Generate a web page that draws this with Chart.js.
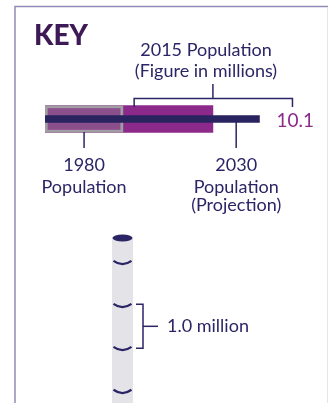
<!DOCTYPE html>
<html>
<head>
<meta charset="utf-8">
<script src="https://cdn.jsdelivr.net/npm/chart.js@4.4.0/dist/chart.umd.min.js"></script>
<style>
html, body { margin: 0; padding: 0; background: #fff; }
#wrap { position: relative; width: 328px; height: 403px; overflow: hidden; }
#wrap canvas { position: absolute; left: 0; top: 0; }
</style>
</head>
<body>
<div id="wrap">
  <canvas id="keyBars" width="328" height="403"></canvas>
  <canvas id="keyColumn" width="328" height="403"></canvas>
</div>
<script>
// key values (millions)
var years = ['1980', '2015', '2030'];
var popValues = [4.7, 10.1, 12.9];
var label2015 = '10.1';

// column illustration
var columnRange = [0.75, 4.6];
var columnTicks = [1, 2, 3, 4];
var bracketRange = [2, 3];
var bracketLabel = '1.0 million';

var NAVY = '#2b2566';
var PURPLE = '#8b2a8b';
var FONT = 'Lato, "Open Sans", sans-serif';

function line(ctx, pts) {
    ctx.beginPath();
    ctx.moveTo(pts[0][0], pts[0][1]);
    for (var i = 1; i < pts.length; i++) ctx.lineTo(pts[i][0], pts[i][1]);
    ctx.stroke();
}

function text(ctx, s, x, y, align) {
    ctx.textAlign = align || 'center';
    ctx.fillText(s, x, y);
}

var keyDecor = {
    id: 'keyDecor',
    afterDraw: function (chart) {
        var ctx = chart.ctx;
        var x = chart.scales.x;
        var a = chart.chartArea;
        ctx.save();

        // frame
        ctx.strokeStyle = '#8e8bb8';
        ctx.lineWidth = 1.5;
        line(ctx, [[15, 403], [15, 6.5], [328, 6.5]]);
        ctx.strokeStyle = '#e6e6ea';
        ctx.lineWidth = 1;
        line(ctx, [[327.5, 7], [327.5, 403]]);

        // title
        ctx.fillStyle = '#3d1a55';
        ctx.font = '900 28px ' + FONT;
        ctx.textBaseline = 'alphabetic';
        text(ctx, 'KEY', 34, 45, 'left');

        var x0 = x.getPixelForValue(0);
        var x1980 = x.getPixelForValue(popValues[0]);
        var x2015 = x.getPixelForValue(popValues[1]);
        var x2030 = x.getPixelForValue(popValues[2]);
        var labelX = x2030 + 17;

        // 2015 bracket
        ctx.strokeStyle = NAVY;
        ctx.lineWidth = 1.5;
        var by = 98.5;
        line(ctx, [[x2015, 84], [x2015, by]]);
        line(ctx, [[x1980 + 11, a.top + 7], [x1980 + 11, by], [labelX + 16, by], [labelX + 16, a.top + 7]]);

        // pointers
        var p1980 = (x0 + x1980) / 2;
        var p2030 = (x2015 + x2030) / 2;
        line(ctx, [[p1980, a.top + 32], [p1980, 148]]);
        line(ctx, [[p2030, a.top + 22], [p2030, 148]]);

        ctx.fillStyle = NAVY;
        ctx.font = '18px ' + FONT;
        text(ctx, years[1] + ' Population', 206, 56);
        text(ctx, '(Figure in millions)', 206, 77);
        text(ctx, years[0], p1980, 171);
        text(ctx, 'Population', p1980, 193);
        text(ctx, years[2], p2030, 171);
        text(ctx, 'Population', p2030, 193);
        text(ctx, '(Projection)', p2030, 211);

        ctx.fillStyle = PURPLE;
        ctx.font = '19px ' + FONT;
        text(ctx, label2015, labelX, 127, 'left');
        ctx.restore();
    }
};

var chart_keyBars = new Chart(document.getElementById('keyBars'), {
    type: 'bar',
    data: {
        labels: ['key'],
        datasets: [
            {
                label: years[2],
                data: [popValues[2]],
                backgroundColor: '#29235f',
                barThickness: 7,
                order: 1
            },
            {
                label: years[0],
                data: [popValues[0]],
                backgroundColor: '#8b4f8c',
                borderColor: '#a19ea3',
                borderWidth: 3,
                borderSkipped: false,
                barThickness: 27,
                order: 2
            },
            {
                label: years[1],
                data: [popValues[1]],
                backgroundColor: PURPLE,
                barThickness: 27,
                order: 3
            }
        ]
    },
    options: {
        indexAxis: 'y',
        animation: false,
        responsive: false,
        devicePixelRatio: 1,
        grouped: false,
        layout: { padding: { left: 45, right: 17, top: 100, bottom: 265 } },
        plugins: {
            legend: { display: false },
            tooltip: { enabled: false }
        },
        scales: {
            x: { type: 'linear', min: 0, max: 16, display: false },
            y: { display: false }
        }
    },
    plugins: [keyDecor]
});

var columnDecor = {
    id: 'columnDecor',
    afterDraw: function (chart) {
        var ctx = chart.ctx;
        var y = chart.scales.y;
        var a = chart.chartArea;
        var cx = (a.left + a.right) / 2;
        var hw = (a.right - a.left) / 2;
        ctx.save();
        ctx.fillStyle = NAVY;
        ctx.strokeStyle = NAVY;

        // top cap
        ctx.beginPath();
        ctx.ellipse(cx, y.getPixelForValue(columnRange[1]) + 0.5, hw - 0.5, 3.5, 0, 0, Math.PI * 2);
        ctx.fill();

        // segment marks
        ctx.lineWidth = 2.2;
        columnTicks.forEach(function (v) {
            var py = y.getPixelForValue(v);
            ctx.beginPath();
            ctx.moveTo(cx - hw + 1.5, py - 2.5);
            ctx.quadraticCurveTo(cx, py + 4, cx + hw - 1.5, py - 2.5);
            ctx.stroke();
        });

        // 1.0 million bracket
        ctx.lineWidth = 1.5;
        var yTop = y.getPixelForValue(bracketRange[1]) - 2;
        var yBot = y.getPixelForValue(bracketRange[0]) - 1;
        var bx = a.right + 10;
        line(ctx, [[a.right + 3, yTop], [bx, yTop], [bx, yBot], [a.right + 3, yBot]]);
        var mid = (yTop + yBot) / 2;
        line(ctx, [[bx, mid], [bx + 15, mid]]);
        ctx.font = '18px ' + FONT;
        text(ctx, bracketLabel, bx + 24, mid + 6, 'left');
        ctx.restore();
    }
};

var chart_keyColumn = new Chart(document.getElementById('keyColumn'), {
    type: 'bar',
    data: {
        labels: ['column'],
        datasets: [
            {
                label: 'column',
                data: [columnRange],
                backgroundColor: '#e3e3e8',
                barPercentage: 1,
                categoryPercentage: 1
            }
        ]
    },
    options: {
        animation: false,
        responsive: false,
        devicePixelRatio: 1,
        layout: { padding: { left: 112, right: 195, top: 235, bottom: 0 } },
        plugins: {
            legend: { display: false },
            tooltip: { enabled: false }
        },
        scales: {
            x: { display: false },
            y: { type: 'linear', min: 0.75, max: 4.66, display: false }
        }
    },
    plugins: [columnDecor]
});
</script>
</body>
</html>
